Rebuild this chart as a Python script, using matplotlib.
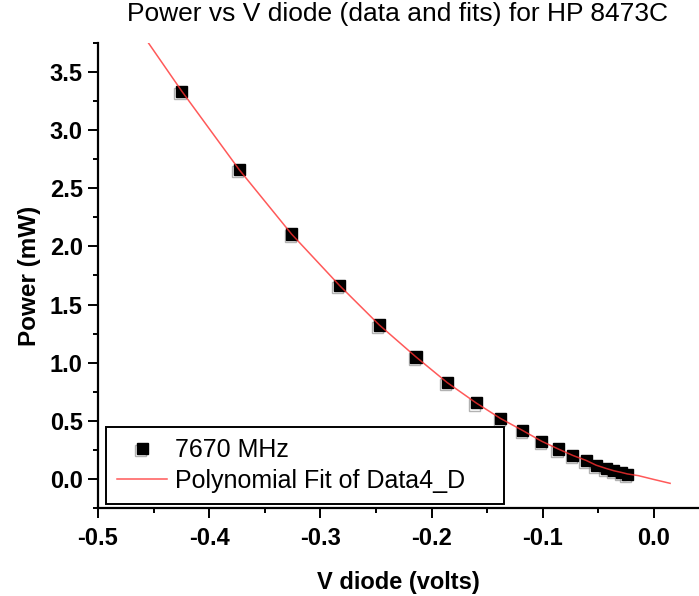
import numpy as np
import matplotlib
matplotlib.use('Agg')
import matplotlib.pyplot as plt
import matplotlib.patheffects as pe
from matplotlib.ticker import MultipleLocator

plt.rcParams['font.family'] = ['Liberation Sans', 'DejaVu Sans']
plt.rcParams['axes.unicode_minus'] = False

# Измеренные точки (7670 MHz)
v_diode = [-0.425, -0.373, -0.326, -0.283, -0.247, -0.214, -0.186, -0.160,
           -0.138, -0.118, -0.101, -0.086, -0.073, -0.061, -0.052, -0.043,
           -0.036, -0.029, -0.024]
power = [3.336, 2.661, 2.107, 1.666, 1.324, 1.049, 0.829, 0.654,
         0.520, 0.416, 0.324, 0.257, 0.202, 0.159, 0.118, 0.088,
         0.071, 0.057, 0.041]

fit_v = [-0.455, -0.425, -0.373, -0.326, -0.283, -0.247, -0.214, -0.186,
         -0.160, -0.138, -0.118, -0.101, -0.086, -0.073, -0.061, -0.052,
         -0.043, -0.036, -0.029, -0.024, -0.014, 0.000, 0.0145]
fit_p = [3.755, 3.340, 2.660, 2.107, 1.666, 1.324, 1.049, 0.829,
         0.654, 0.520, 0.416, 0.324, 0.257, 0.202, 0.159, 0.118,
         0.090, 0.070, 0.055, 0.043, 0.028, -0.005, -0.038]

fig = plt.figure(figsize=(6.99, 5.96), dpi=100)
ax = fig.add_axes([0.1402, 0.1477, 0.8598, 0.7802])

ax.plot(v_diode, power, linestyle='none', marker='s', markersize=8,
        color='black', label='7670 MHz', zorder=2,
        path_effects=[pe.SimpleLineShadow(offset=(-1, -1.5), shadow_color='gray', alpha=0.6),
                      pe.Normal()])
ax.plot(fit_v, fit_p, color='#ff3030', linewidth=1.1, alpha=0.8,
        label='Polynomial Fit of Data4_D', zorder=3)

ax.set_xlim(-0.5, 0.0405)
ax.set_ylim(-0.25, 3.75)
ax.xaxis.set_major_locator(MultipleLocator(0.1))
ax.xaxis.set_minor_locator(MultipleLocator(0.05))
ax.yaxis.set_major_locator(MultipleLocator(0.5))
ax.yaxis.set_minor_locator(MultipleLocator(0.25))

ax.spines['top'].set_visible(False)
ax.spines['right'].set_visible(False)
ax.spines['left'].set_linewidth(1.6)
ax.spines['bottom'].set_linewidth(1.6)
ax.tick_params(which='major', direction='out', length=7, width=1.4, labelsize=17)
ax.tick_params(axis='x', which='major', pad=7)
ax.tick_params(axis='y', which='major', pad=4)
ax.tick_params(which='minor', direction='out', length=3.5, width=1.4)
for lbl in ax.get_xticklabels() + ax.get_yticklabels():
    lbl.set_fontweight('bold')

ax.set_xlabel('V diode (volts)', fontsize=17, fontweight='bold', labelpad=15)
ax.set_ylabel('Power (mW)', fontsize=17.5, fontweight='bold', labelpad=6)
fig.text(0.569, 0.965, 'Power vs V diode (data and fits) for HP 8473C',
         fontsize=19, ha='center', va='baseline')

leg = ax.legend(loc='lower left', bbox_to_anchor=(0.013, 0.009, 0.662, 0.16),
                mode='expand', borderaxespad=0,
                fancybox=False, edgecolor='black', framealpha=1, fontsize=18,
                handlelength=2.0, handletextpad=0.3, labelspacing=0.25,
                borderpad=0.45)
leg.get_frame().set_linewidth(1.4)

plt.savefig('out.png', dpi=100)
